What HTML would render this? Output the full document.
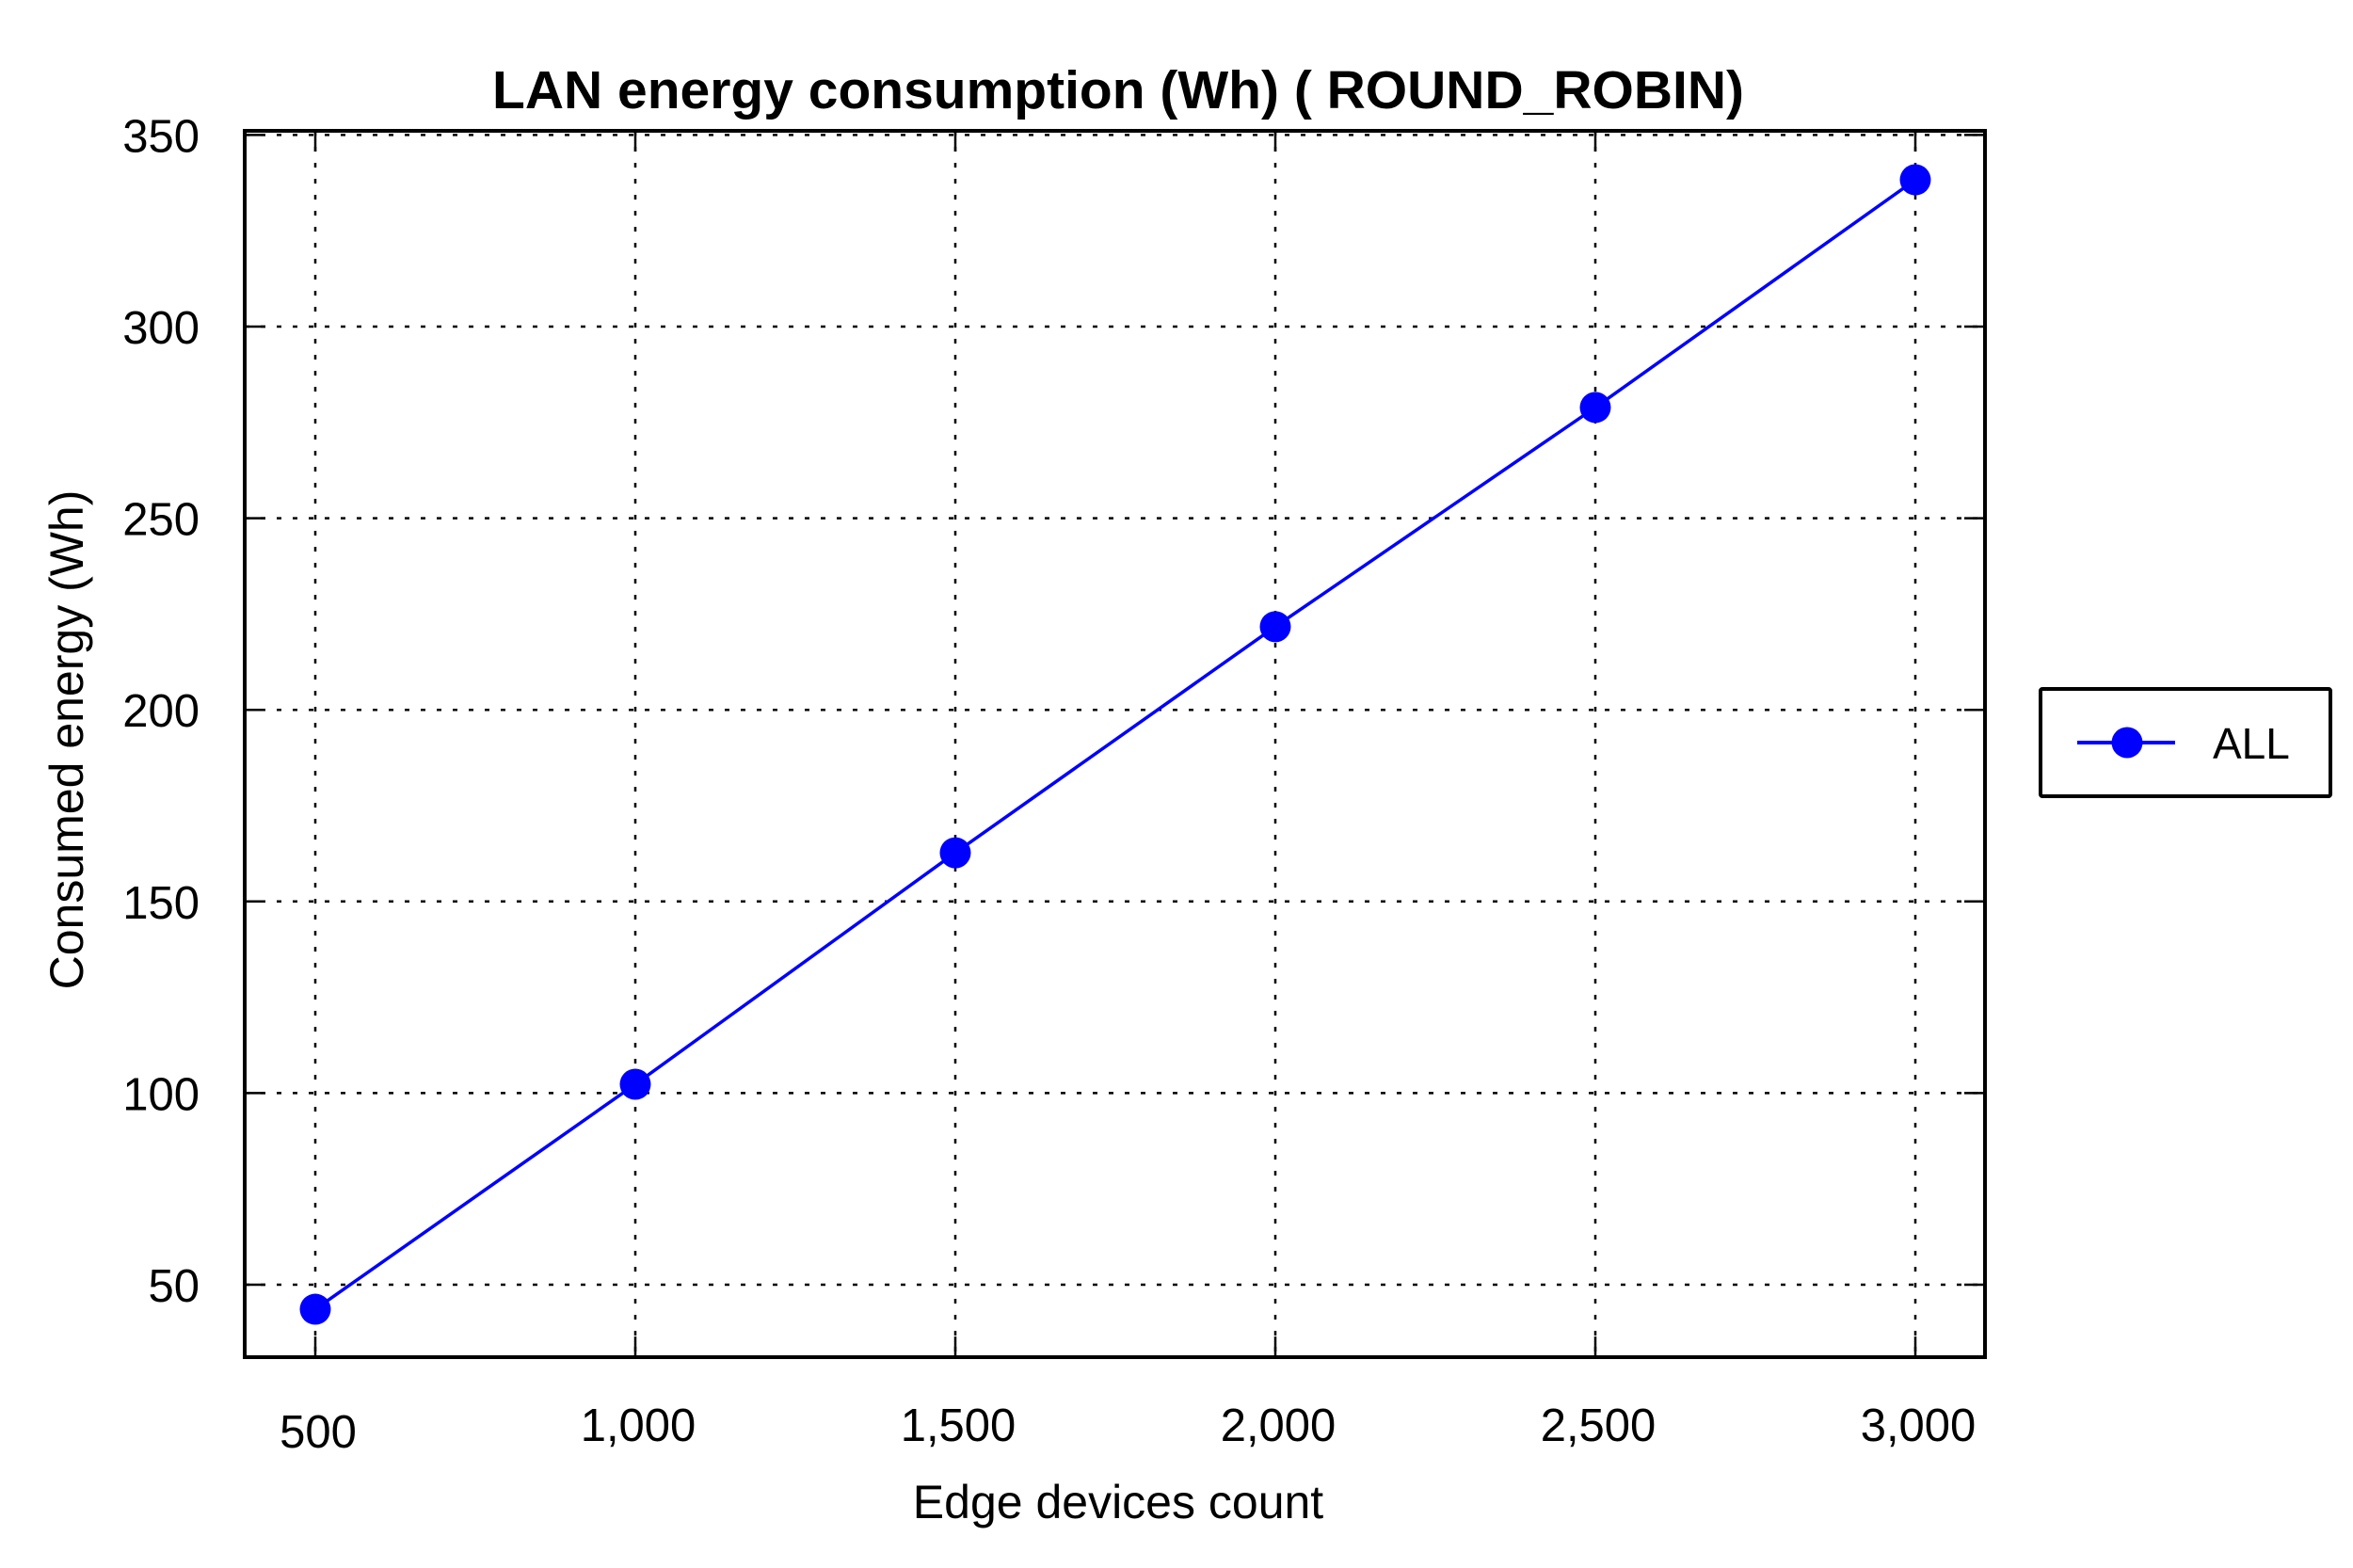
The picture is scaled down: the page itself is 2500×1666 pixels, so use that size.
<!DOCTYPE html>
<html><head><meta charset="utf-8"><style>
html,body{margin:0;padding:0;background:#fff;}
svg{display:block;font-family:"Liberation Sans",Arial,sans-serif;}
</style></head><body>
<svg id="chart" width="2500" height="1666" viewBox="0 0 2500 1666" xmlns="http://www.w3.org/2000/svg">
<rect width="2500" height="1666" fill="#fff"/>
<text x="1188" y="115" font-size="57" font-weight="bold" text-anchor="middle">LAN energy consumption (Wh) ( ROUND_ROBIN)</text>
<g id="grid"></g>
<g id="axes"></g>
<g id="series"></g>
<text x="1188" y="1613" font-size="50" text-anchor="middle">Edge devices count</text>
<text transform="translate(88,786) rotate(-90)" font-size="50" text-anchor="middle">Consumed energy (Wh)</text>
<g>
<rect x="2168" y="732" width="308" height="114" fill="#fff" stroke="#000" stroke-width="4" rx="2"/>
<line x1="2207" y1="789" x2="2311" y2="789" stroke="#0000ff" stroke-width="4"/>
<circle cx="2260" cy="789" r="16.5" fill="#0000ff"/>
<text x="2351" y="806" font-size="46">ALL</text>
</g>
</svg>
<script>
const categories = [500, 1000, 1500, 2000, 2500, 3000];
const xTickLabels = ["500", "1,000", "1,500", "2,000", "2,500", "3,000"];
const seriesAll = [43.6, 102.3, 162.7, 221.7, 278.9, 338.3];
const yTicks = [50, 100, 150, 200, 250, 300, 350];

const NS = "http://www.w3.org/2000/svg";
const L = 260, R = 2109, T = 139, B = 1442;
function xs(v){ return 335 + (v - 500) * (2035 - 335) / 2500; }
function ys(v){ return 1365 - (v - 50) * (1365 - 347) / 250; }
function mk(tag, attrs, parent){
  const e = document.createElementNS(NS, tag);
  for (const k in attrs) e.setAttribute(k, attrs[k]);
  parent.appendChild(e); return e;
}
const grid = document.getElementById('grid');
const axes = document.getElementById('axes');
const series = document.getElementById('series');

yTicks.forEach(v => {
  const y = ys(v);
  const g = mk('line', {x1:L, x2:R, y1:y, y2:y, stroke:'#000', 'stroke-width':2.5, 'stroke-dasharray':'5 12'}, grid);
  
  
  const t1 = mk('line', {x1:L, x2:L+22, y1:y, y2:y, stroke:'#000', 'stroke-width':2.5}, axes);
  
  
  const t2 = mk('line', {x1:R-22, x2:R, y1:y, y2:y, stroke:'#000', 'stroke-width':2.5}, axes);
  
  
  const lbl = mk('text', {x:212, y:y+18, 'font-size':49, 'text-anchor':'end'}, axes);
  lbl.textContent = String(v);
  
  
});
categories.forEach((c, i) => {
  const x = xs(c);
  const g = mk('line', {x1:x, x2:x, y1:T, y2:B, stroke:'#000', 'stroke-width':2.5, 'stroke-dasharray':'5 12'}, grid);
  
  
  const t1 = mk('line', {x1:x, x2:x, y1:B-22, y2:B, stroke:'#000', 'stroke-width':2.5}, axes);
  
  
  const t2 = mk('line', {x1:x, x2:x, y1:T, y2:T+22, stroke:'#000', 'stroke-width':2.5}, axes);
  
  
  const lbl = mk('text', {x:x+3, y:(i===0?1538:1531), 'font-size':49, 'text-anchor':'middle'}, axes);
  lbl.textContent = xTickLabels[i];
  
  
});
const frame = mk('rect', {x:L, y:T, width:R-L, height:B-T, fill:'none', stroke:'#000', 'stroke-width':4}, axes);



const pts = categories.map((c, i) => xs(c) + ',' + ys(seriesAll[i])).join(' ');
const line = mk('polyline', {points:pts, fill:'none', stroke:'#0000ff', 'stroke-width':3.5}, series);


categories.forEach((c, i) => {
  const p = mk('circle', {cx:xs(c), cy:ys(seriesAll[i]), r:16.5, fill:'#0000ff'}, series);
  
  
});
</script>
</body></html>
